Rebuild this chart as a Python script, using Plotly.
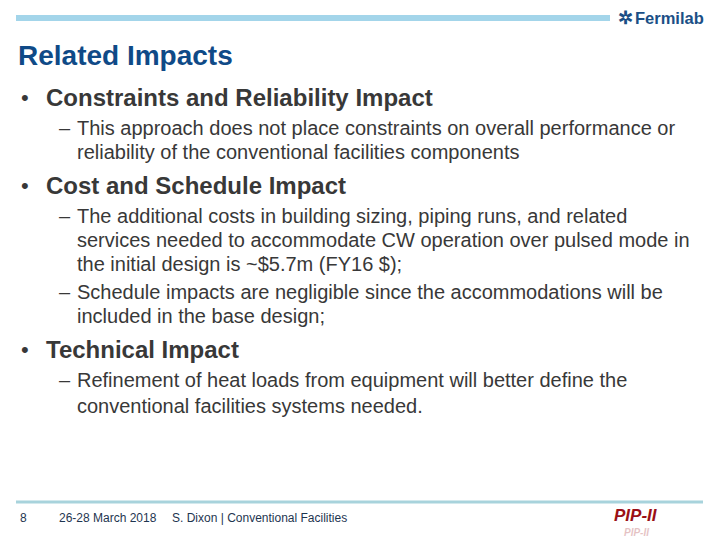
import plotly.graph_objects as go

# ---- slide content ----
title_text = "Related Impacts"
headers = [
    "Constraints and Reliability Impact",
    "Cost and Schedule Impact",
    "Technical Impact",
]
header_y = [97, 185, 349]

sub_texts = [
    "This approach does not place constraints on overall performance or",
    "reliability of the conventional facilities components",
    "The additional costs in building sizing, piping runs, and related",
    "services needed to accommodate CW operation over pulsed mode in",
    "the initial design is ~$5.7m (FY16 $);",
    "Schedule impacts are negligible since the accommodations will be",
    "included in the base design;",
    "Refinement of heat loads from equipment will better define the",
    "conventional facilities systems needed.",
]
sub_dash = [True, False, True, False, False, True, False, True, False]
sub_y = [128, 152, 216, 240, 264, 292, 316, 380, 406]

footer_page = "8"
footer_date = "26-28 March 2018"
footer_author = "S. Dixon | Conventional Facilities"
logo_text = "Fermilab"
pip_text = "PIP-II"

FONT = "Liberation Sans, Arial, sans-serif"
TXT = "#383838"

# the page body has an 8px margin; offset axis ranges so units == page pixels
OFF = 8

fig = go.Figure()
fig.add_trace(go.Scatter(x=[OFF, 720 + OFF], y=[OFF, 540 + OFF], mode="markers",
                         marker=dict(opacity=0), hoverinfo="skip", showlegend=False))

shapes = [
    dict(type="rect", x0=16, x1=610, y0=15, y1=21, fillcolor="#a3d5ea",
         line=dict(width=0), xref="x", yref="y"),
    dict(type="rect", x0=16, x1=703, y0=500.5, y1=503.5, fillcolor="#a8d3dc",
         line=dict(width=0), xref="x", yref="y"),
]

ann = []
def add(text, x, y, size, color=TXT, bold=False, italic=False, anchor="left", opacity=1):
    t = text
    if bold:
        t = "<b>" + t + "</b>"
    if italic:
        t = "<i>" + t + "</i>"
    ann.append(dict(text=t, x=x, y=y, xref="x", yref="y", xanchor=anchor,
                    yanchor="middle", showarrow=False, opacity=opacity,
                    font=dict(family=FONT, size=size, color=color)))

# Fermilab logo
add("✲", 616, 18, 18, color="#1b4f86", bold=True)
add(logo_text, 633, 18, 16.5, color="#1b4f86", bold=True)

# Title
add(title_text, 16, 55, 28, color="#0f4a87", bold=True)

# Headers
for h, y in zip(headers, header_y):
    add("•", 19, y, 22)
    add(h, 44, y, 24, bold=True)

# Sub bullets
for t, d, y in zip(sub_texts, sub_dash, sub_y):
    if d:
        add("–", 57, y, 20)
    add(t, 75, y, 20)

# Footer
add(footer_page, 18, 518, 12, color="#1e3550")
add(footer_date, 57, 518, 12, color="#1e3550")
add(footer_author, 170, 518, 12, color="#1e3550")
add(pip_text, 636, 515, 17, color="#9b1016", bold=True, italic=True, anchor="center")
add(pip_text, 636, 532, 10, color="#9b1016", bold=True, italic=True, anchor="center",
    opacity=0.25)

fig.update_layout(
    width=720, height=540,
    margin=dict(l=0, r=0, t=0, b=0),
    paper_bgcolor="white", plot_bgcolor="white",
    xaxis=dict(range=[OFF, 720 + OFF], visible=False, fixedrange=True),
    yaxis=dict(range=[540 + OFF, OFF], visible=False, fixedrange=True),
    shapes=shapes, annotations=ann, showlegend=False,
)

fig.write_html("out.html", config={"displayModeBar": False})
